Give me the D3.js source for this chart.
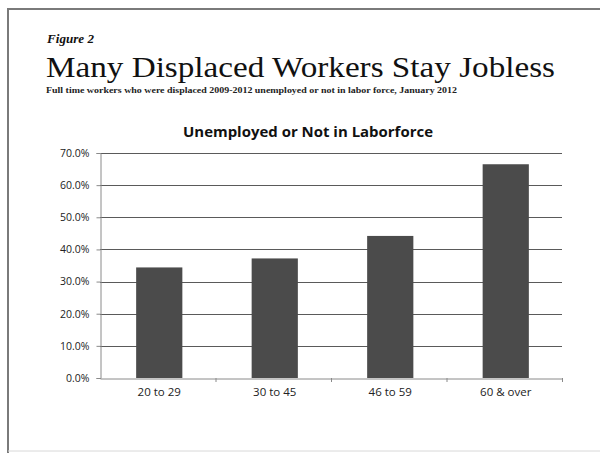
<!DOCTYPE html>
<html><head><meta charset="utf-8">
<script src="https://cdn.jsdelivr.net/npm/d3@7"></script>
<style>body{margin:0;background:#fff}svg{display:block}</style>
</head><body>
<script>
const categories = ["20 to 29", "30 to 45", "46 to 59", "60 & over"];
const values = [0.344, 0.372, 0.442, 0.665];
const yTicks = [0, 0.1, 0.2, 0.3, 0.4, 0.5, 0.6, 0.7];
const figureLabel = "Figure 2";
const mainTitle = "Many Displaced Workers Stay Jobless";
const subTitle = "Full time workers who were displaced 2009-2012 unemployed or not in labor force, January 2012";
const chartTitle = "Unemployed or Not in Laborforce";

(function () {
const W = 600, H = 453;
const svg = d3.select("body").append("svg").attr("width", W).attr("height", H);

// frame
svg.append("line").attr("x1", 8).attr("x2", 600).attr("y1", 9).attr("y2", 9).attr("stroke", "#7a7a7a").attr("stroke-width", 2);
svg.append("line").attr("x1", 8).attr("x2", 8).attr("y1", 8).attr("y2", 453).attr("stroke", "#7a7a7a").attr("stroke-width", 2);
svg.append("line").attr("x1", 8).attr("x2", 600).attr("y1", 451).attr("y2", 451).attr("stroke", "#d8d8d8").attr("stroke-width", 1);

svg.append("text").attr("x", 47).attr("y", 43).attr("font-family", "Liberation Serif").attr("font-style", "italic").attr("font-weight", "bold").attr("font-size", 12).attr("fill", "#111").attr("textLength", 47).attr("lengthAdjust", "spacingAndGlyphs").text(figureLabel);
svg.append("text").attr("x", 46).attr("y", 77).attr("font-family", "Liberation Serif").attr("font-size", 30).attr("fill", "#111").attr("textLength", 509).attr("lengthAdjust", "spacingAndGlyphs").text(mainTitle);
svg.append("text").attr("x", 46).attr("y", 93).attr("font-family", "Liberation Serif").attr("font-weight", "bold").attr("font-size", 7.5).attr("fill", "#222").attr("textLength", 411).attr("lengthAdjust", "spacingAndGlyphs").text(subTitle);

svg.append("text").attr("x", 308).attr("y", 137).attr("text-anchor", "middle").attr("font-family", "Open Sans").attr("font-weight", "bold").attr("font-size", 13.5).attr("fill", "#111").attr("textLength", 250).attr("lengthAdjust", "spacingAndGlyphs").text(chartTitle);

const pl = 100, pr = 562, pt = 153, pb = 378;
const x = d3.scaleBand().domain(categories).range([pl, pr]).paddingInner(0.6).paddingOuter(0.3);
const y = d3.scaleLinear().domain([0, 0.7]).range([pb, pt]);

// gridlines
svg.append("g").selectAll("line").data(yTicks.slice(1)).join("line")
  .attr("x1", pl).attr("x2", pr).attr("y1", d => Math.round(y(d)) + 0.5).attr("y2", d => Math.round(y(d)) + 0.5)
  .attr("stroke", "#5a5a5a").attr("stroke-width", 1);

// bars
svg.append("g").selectAll("rect").data(values).join("rect")
  .attr("x", (d, i) => x(categories[i]) + 1.5).attr("width", x.bandwidth())
  .attr("y", d => y(d)).attr("height", d => y(0) - y(d))
  .attr("fill", "#4b4b4b");

// y axis
const yAxis = d3.axisLeft(y).tickValues(yTicks).tickFormat(d3.format(".1%")).tickSize(4);
const gy = svg.append("g").attr("transform", `translate(${pl + 0.5},0)`).call(yAxis);
gy.selectAll("path,line").attr("stroke", "#8a8a8a");
gy.selectAll("text").attr("font-family", "Open Sans").attr("font-size", 10.5).attr("fill", "#222").attr("dx", -4);

// x axis
const xOuter = d3.scaleBand().domain(categories).range([pl, pr]);
const gx = svg.append("g").attr("transform", `translate(0,${pb + 0.5})`)
  .call(d3.axisBottom(xOuter).tickSize(0).tickSizeOuter(0));
gx.select("path").attr("stroke", "#8a8a8a");
gx.selectAll("text").attr("font-family", "Open Sans").attr("font-size", 11.5).attr("fill", "#222").attr("dy", 14).attr("dx", 1.5);
svg.append("g").selectAll("line").data(categories).join("line")
  .attr("x1", d => xOuter(d) + xOuter.bandwidth() + 0.5).attr("x2", d => xOuter(d) + xOuter.bandwidth() + 0.5)
  .attr("y1", pb).attr("y2", pb + 4).attr("stroke", "#8a8a8a");
})();
</script>
</body></html>
